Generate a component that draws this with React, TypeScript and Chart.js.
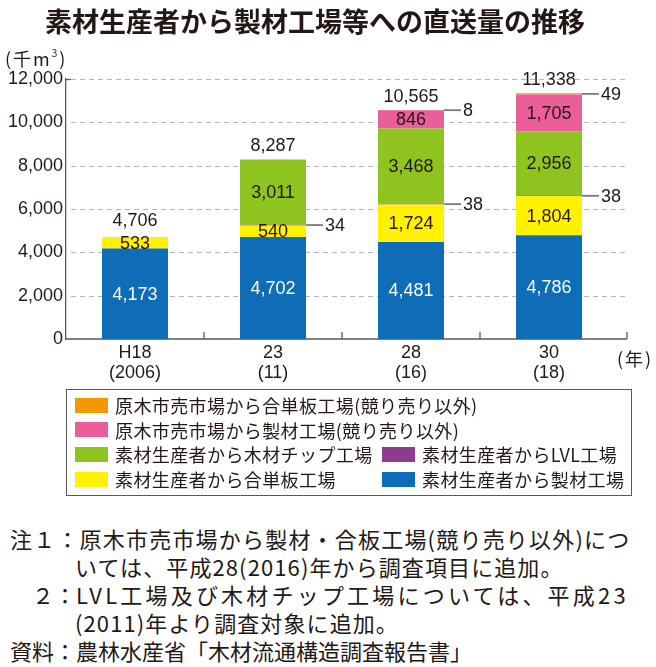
import React, { useEffect, useRef } from 'react';
import { Chart, registerables } from 'chart.js';

Chart.register(...registerables);

// ---- data ----
const categories: string[][] = [
  ['H18', '(2006)'],
  ['23', '(11)'],
  ['28', '(16)'],
  ['30', '(18)'],
];
const seriesNames: string[] = [
  '素材生産者から製材工場',
  '素材生産者から合単板工場',
  '素材生産者からLVL工場',
  '素材生産者から木材チップ工場',
  '原木市売市場から製材工場(競り売り以外)',
  '原木市売市場から合単板工場(競り売り以外)',
];
const sawmillDirect: (number | null)[] = [4173, 4702, 4481, 4786];
const plywoodDirect: (number | null)[] = [533, 540, 1724, 1804];
const lvlDirect: (number | null)[] = [null, 34, 38, 38];
const chipDirect: (number | null)[] = [null, 3011, 3468, 2956];
const marketSawmill: (number | null)[] = [null, null, 846, 1705];
const marketPlywood: (number | null)[] = [null, null, 8, 49];
const totals: number[] = [4706, 8287, 10565, 11338];
const yTicks: number[] = [0, 2000, 4000, 6000, 8000, 10000, 12000];
const seriesColors: string[] = ['#0E6DB6', '#FFF100', '#8C3B8F', '#8FC31F', '#EA5F9A', '#F39800'];
// legend rows (indices into seriesNames), two columns
const legendRows: number[][] = [[5], [4], [3, 2], [1, 0]];
const noteLines: { text: string; left: number; ls: number; pre?: string }[] = [
  { text: '注１：原木市売市場から製材・合板工場(競り売り以外)につ', left: 10, ls: 1.2 },
  { text: 'いては、平成28(2016)年から調査項目に追加。', left: 75, ls: 1.1 },
  { pre: '　２：', text: 'LVL工場及び木材チップ工場については、平成23', left: 10, ls: 3.2 },
  { text: '(2011)年より調査対象に追加。', left: 75, ls: 1.1 },
  { text: '資料：農林水産省「木材流通構造調査報告書」', left: 10, ls: 0 },
];

const seriesData = [sawmillDirect, plywoodDirect, lvlDirect, chipDirect, marketSawmill, marketPlywood];

const TEXT = '#231815';
const JP = '"Noto Sans CJK JP", "Noto Sans", sans-serif';
const NUM = '"Liberation Sans", Arial, sans-serif';
const SMALL_LIMIT = 100;

const fmt = (v: number) => v.toLocaleString('en-US');

const gridPlugin = {
  id: 'customGrid',
  beforeDatasetsDraw(chart: any) {
    const { ctx, chartArea, scales } = chart;
    const { left, right, bottom } = chartArea;
    const x = scales.x;
    const y = scales.y;
    const ext = 9;
    ctx.save();
    ctx.strokeStyle = '#b5b5b6';
    ctx.lineWidth = 1;
    ctx.setLineDash([5, 4]);
    yTicks.forEach((t) => {
      if (t === 0) return;
      const py = Math.round(y.getPixelForValue(t)) + 0.5;
      ctx.beginPath();
      ctx.moveTo(left + 5, py);
      ctx.lineTo(right + ext, py);
      ctx.stroke();
    });
    ctx.setLineDash([]);
    ctx.strokeStyle = '#595757';
    ctx.lineWidth = 1.3;
    const topY = Math.round(y.getPixelForValue(yTicks[yTicks.length - 1])) + 0.5;
    ctx.beginPath();
    ctx.moveTo(left, topY);
    ctx.lineTo(left + 5, topY);
    ctx.stroke();
    ctx.beginPath();
    ctx.moveTo(left, bottom);
    ctx.lineTo(right + ext, bottom);
    ctx.stroke();
    const tickXs: number[] = [];
    for (let i = 0; i < categories.length - 1; i++) {
      tickXs.push((x.getPixelForValue(i) + x.getPixelForValue(i + 1)) / 2);
    }
    tickXs.push(right + ext);
    tickXs.forEach((px) => {
      ctx.beginPath();
      ctx.moveTo(px, bottom);
      ctx.lineTo(px, bottom - 7);
      ctx.stroke();
    });
    ctx.restore();
  },
};

const labelPlugin = {
  id: 'valueLabels',
  afterDatasetsDraw(chart: any) {
    const ctx = chart.ctx;
    ctx.save();
    ctx.font = `18px ${NUM}`;
    ctx.textBaseline = 'middle';
    const n = chart.data.datasets.length;
    categories.forEach((_, j) => {
      let topY = Infinity;
      let topInsideSmall = false;
      let cx = 0;
      for (let i = 0; i < n; i++) {
        const v = chart.data.datasets[i].data[j];
        if (v == null || v === 0) continue;
        const el = chart.getDatasetMeta(i).data[j];
        const p = el.getProps(['x', 'y', 'base', 'width'], true);
        cx = p.x;
        const cy = (p.y + p.base) / 2;
        const h = Math.abs(p.base - p.y);
        if (v >= SMALL_LIMIT) {
          ctx.fillStyle = i === 0 ? '#ffffff' : TEXT;
          ctx.textAlign = 'center';
          ctx.fillText(fmt(v), p.x, cy + 1);
        } else {
          const x0 = p.x + p.width / 2;
          ctx.strokeStyle = '#7a7a7a';
          ctx.lineWidth = 1.8;
          ctx.beginPath();
          ctx.moveTo(x0, cy);
          ctx.lineTo(x0 + 17, cy);
          ctx.stroke();
          ctx.fillStyle = TEXT;
          ctx.textAlign = 'left';
          ctx.fillText(String(v), x0 + 19, cy + 1);
        }
        if (p.y < topY) {
          topY = p.y;
          topInsideSmall = v >= SMALL_LIMIT && h < 16;
        }
      }
      ctx.fillStyle = TEXT;
      ctx.textAlign = 'center';
      ctx.fillText(fmt(totals[j]), cx, topY - (topInsideSmall ? 16 : 13));
    });
    ctx.restore();
  },
};

export default function App() {
  const ref = useRef<HTMLCanvasElement>(null);

  useEffect(() => {
    if (!ref.current) return;
    const chart = new Chart(ref.current, {
      type: 'bar',
      data: {
        labels: categories,
        datasets: seriesData.map((d, i) => ({
          label: seriesNames[i],
          data: d,
          backgroundColor: seriesColors[i],
          borderWidth: 0,
          barPercentage: 66 / 138,
          categoryPercentage: 1,
        })),
      },
      options: {
        responsive: false,
        animation: false,
        layout: { padding: { top: 79, right: 38, left: 0, bottom: 0 } },
        plugins: { legend: { display: false }, tooltip: { enabled: false } },
        scales: {
          x: {
            stacked: true,
            grid: { display: false, drawTicks: false },
            border: { display: false },
            ticks: {
              font: { family: NUM, size: 18, lineHeight: 20 / 18 },
              color: TEXT,
              padding: 4,
              maxRotation: 0,
              autoSkip: false,
            },
            afterFit: (s: any) => {
              s.height = 61;
            },
          },
          y: {
            stacked: true,
            min: yTicks[0],
            max: yTicks[yTicks.length - 1],
            grid: { display: false, drawTicks: false },
            border: { display: true, color: '#595757', width: 1.3 },
            ticks: {
              stepSize: yTicks[1] - yTicks[0],
              padding: 3,
              font: { family: NUM, size: 18 },
              color: TEXT,
              callback: (v: any) => fmt(Number(v)),
            },
            afterFit: (s: any) => {
              s.width = 66;
            },
          },
        },
      },
      plugins: [gridPlugin, labelPlugin],
    } as any);
    return () => chart.destroy();
  }, []);

  return (
    <div
      style={{
        position: 'absolute',
        left: 0,
        top: 0,
        width: 656,
        height: 667,
        fontFamily: JP,
        color: TEXT,
        background: '#fff',
        overflow: 'hidden',
      }}
    >
      <canvas ref={ref} width={656} height={400} style={{ position: 'absolute', left: 0, top: 0 }} />
      <div
        style={{
          position: 'absolute',
          left: 45,
          top: 5,
          fontSize: 27,
          fontWeight: 700,
          lineHeight: '32px',
          whiteSpace: 'nowrap',
        }}
      >
        素材生産者から製材工場等への直送量の推移
      </div>
      <div
        style={{
          position: 'absolute',
          left: 5,
          top: 46,
          fontSize: 18,
          lineHeight: '24px',
          letterSpacing: 2,
          whiteSpace: 'nowrap',
        }}
      >
        (千m<sup style={{ fontSize: 10, verticalAlign: 'top', lineHeight: '14px' }}>3</sup>)
      </div>
      <div
        style={{
          position: 'absolute',
          left: 617,
          top: 346,
          fontSize: 18,
          lineHeight: '24px',
          letterSpacing: 2,
          whiteSpace: 'nowrap',
        }}
      >
        (年)
      </div>
      <div
        style={{
          position: 'absolute',
          left: 66,
          top: 389,
          width: 566,
          height: 107,
          boxSizing: 'border-box',
          border: '1.5px solid #595757',
        }}
      >
        {legendRows.map((row, r) =>
          row.map((si, c) => (
            <div
              key={`${r}-${c}`}
              style={{
                position: 'absolute',
                left: c === 0 ? 8 : 315,
                top: 3 + r * 24.6,
                height: 24.6,
                display: 'flex',
                alignItems: 'center',
                whiteSpace: 'nowrap',
              }}
            >
              <span
                style={{
                  display: 'inline-block',
                  width: 33,
                  height: 15,
                  background: seriesColors[si],
                  marginRight: 7,
                }}
              />
              <span style={{ fontSize: 18, lineHeight: '24px', letterSpacing: 0.4 }}>{seriesNames[si]}</span>
            </div>
          ))
        )}
      </div>
      {noteLines.map((ln, i) => (
        <div
          key={i}
          style={{
            position: 'absolute',
            left: ln.left,
            top: 524 + i * 28,
            fontSize: 22,
            lineHeight: '28px',
            whiteSpace: 'nowrap',
          }}
        >
          {ln.pre ? <span>{ln.pre}</span> : null}
          <span style={{ letterSpacing: ln.ls }}>{ln.text}</span>
        </div>
      ))}
    </div>
  );
}
